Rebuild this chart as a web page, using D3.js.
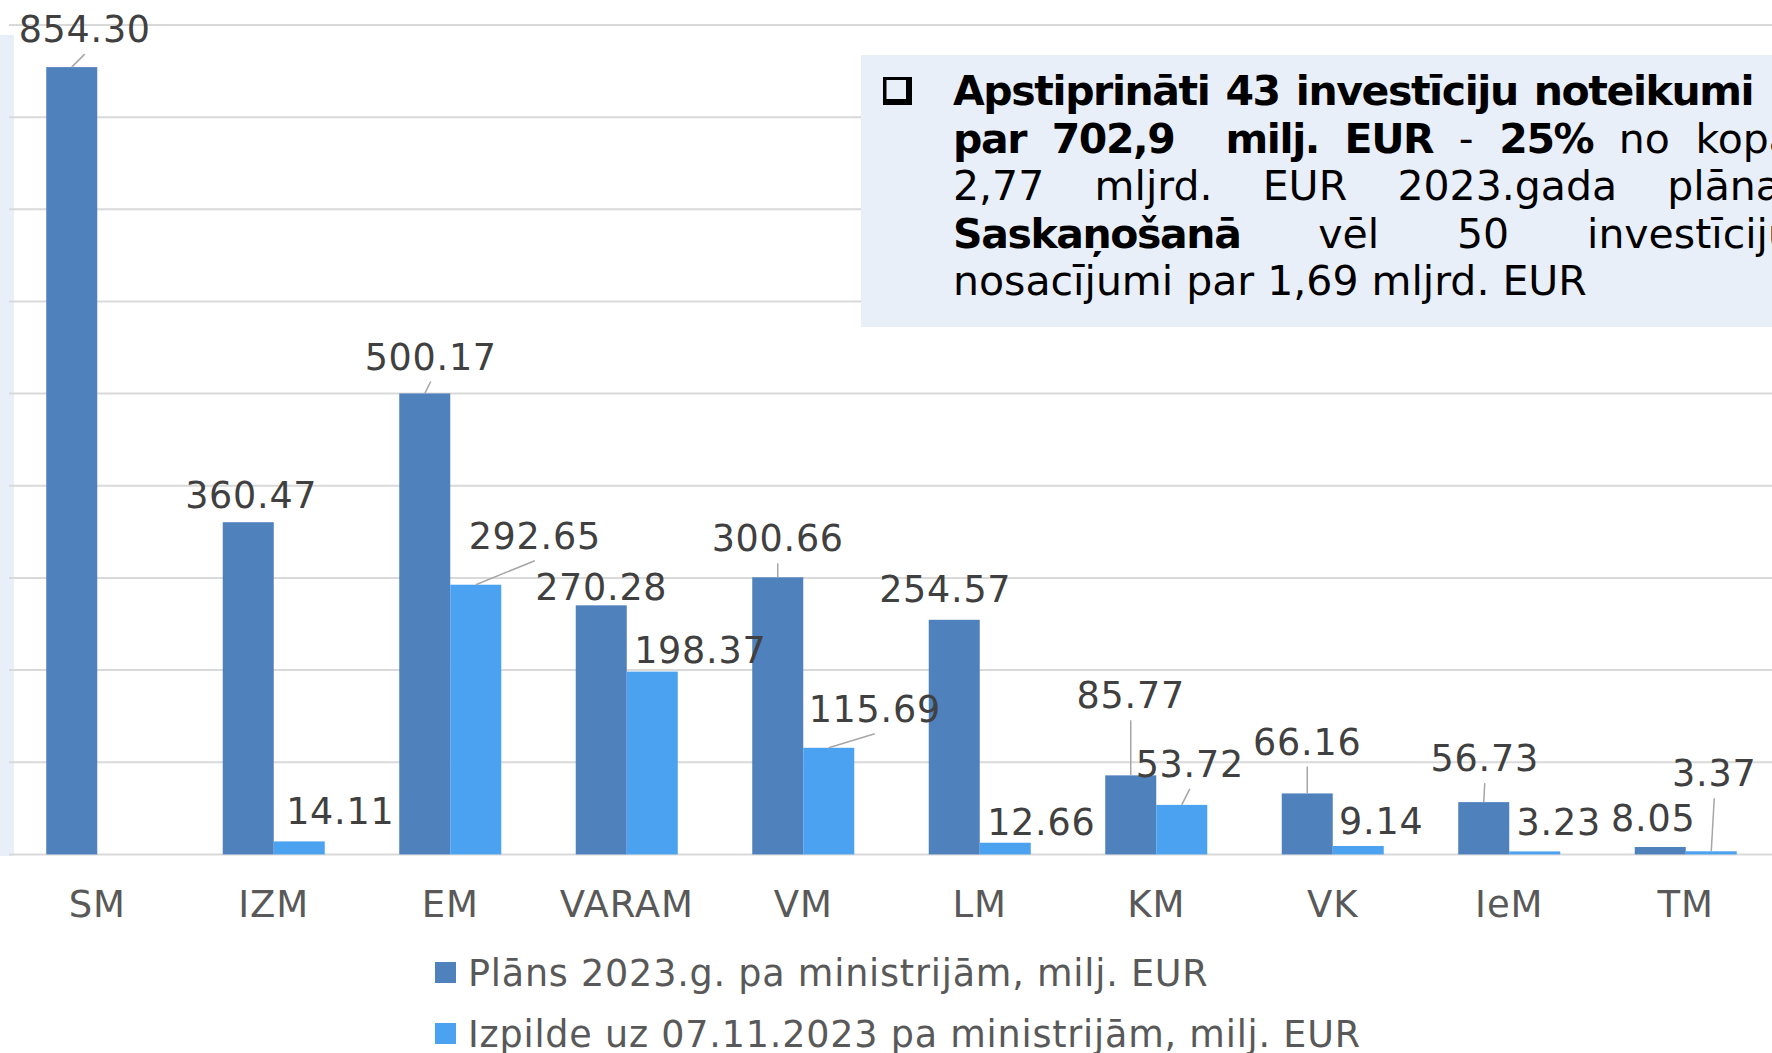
<!DOCTYPE html>
<html>
<head>
<meta charset="utf-8">
<script src="https://cdn.jsdelivr.net/npm/d3@7"></script>
<style>
  body { margin: 0; background: #fff; overflow: hidden; }
  text { font-family: "DejaVu Sans", Verdana, sans-serif; }
</style>
</head>
<body>
<script>
'use strict';

// ministries on the x axis
const categories = ["SM", "IZM", "EM", "VARAM", "VM", "LM", "KM", "VK", "IeM", "TM"];
// plan 2023, mln EUR
const planValues = [854.30, 360.47, 500.17, 270.28, 300.66, 254.57, 85.77, 66.16, 56.73, 8.05];
// execution up to 07.11.2023, mln EUR (SM has none)
const doneValues = [null, 14.11, 292.65, 198.37, 115.69, 12.66, 53.72, 9.14, 3.23, 3.37];
const seriesNames = [
    "Plāns 2023.g. pa ministrijām, milj. EUR",
    "Izpilde uz 07.11.2023 pa ministrijām, milj. EUR"
];
const yTicks = [0, 100, 200, 300, 400, 500, 600, 700, 800, 900];

// the text box on the top right, line by line ([text, bold])
const noteLines = [
    [["Apstiprināti 43 investīciju noteikumi", true]],
    [["par 702,9  milj. EUR", true], [" - ", false], ["25%", true], [" no kopā", false]],
    [["2,77 mljrd. EUR 2023.gada plāna.", false]],
    [["Saskaņošanā", true], [" vēl 50 investīciju", false]],
    [["nosacījumi par 1,69 mljrd. EUR", false]]
];
// fixed word gap per line, null = justified
const noteGaps = [16, null, null, null, 13];

// hand placed data labels: [dx, dy, leader line] from the bar top
const planLabelShift = [[13, -38, 1], [3, -27, 0], [6, -37, 1], [0, -18, 0], [0, -39, 1],
    [-9, -31, 0], [0, -80, 1], [0, -52, 1], [1, -44, 1], [-7, -29, 0]];
const doneLabelShift = [null, [41, -31, 0], [59, -49, 1], [48, -22, 0], [46, -39, 1],
    [36, -21, 0], [8, -41, 1], [23, -25, 0], [24, -30, 0], [3, -78, 1]];

const colors = ["#4F81BD", "#4BA2F0"];
const boxFill = "#E9EFF9";

const W = 1772, H = 1053;

const svg = d3.select("body").append("svg")
    .attr("width", W)
    .attr("height", H);

// light strip of the neighbouring box on the left
svg.append("rect")
    .attr("x", 0).attr("y", 35)
    .attr("width", 14).attr("height", 821)
    .attr("fill", boxFill);

const x = d3.scaleBand()
    .domain(categories)
    .range([9, 1774])
    .paddingInner(0.422)
    .paddingOuter(0.211);

const y = d3.scaleLinear()
    .domain([0, 900])
    .range([854.4, 25]);

// gridlines
svg.append("g")
    .selectAll("line")
    .data(yTicks)
    .enter()
    .append("line")
    .attr("x1", 9)
    .attr("x2", W)
    .attr("y1", d => y(d))
    .attr("y2", d => y(d))
    .attr("stroke", "#D9D9D9")
    .attr("stroke-width", 2);

const bw = x.bandwidth() / 2;

function drawSeries(values, shifts, offset, color) {
    const rows = categories.map((c, i) => ({ c: c, v: values[i], s: shifts[i] }))
        .filter(d => d.v != null);

    svg.append("g")
        .selectAll("rect")
        .data(rows)
        .enter()
        .append("rect")
        .attr("x", d => x(d.c) + offset)
        .attr("y", d => y(d.v))
        .attr("width", bw)
        .attr("height", d => y(0) - y(d.v))
        .attr("fill", color);

    const cx = d => x(d.c) + offset + bw / 2;

    svg.append("g")
        .selectAll("line")
        .data(rows.filter(d => d.s[2]))
        .enter()
        .append("line")
        .attr("x1", cx)
        .attr("y1", d => y(d.v))
        .attr("x2", d => cx(d) + d.s[0])
        .attr("y2", d => y(d.v) + d.s[1] + 25)
        .attr("stroke", "#A6A6A6")
        .attr("stroke-width", 1.5);

    svg.append("g")
        .selectAll("text")
        .data(rows)
        .enter()
        .append("text")
        .attr("x", d => cx(d) + d.s[0])
        .attr("y", d => y(d.v) + d.s[1])
        .attr("dy", "0.36em")
        .attr("text-anchor", "middle")
        .attr("font-size", "36.5px")
        .attr("letter-spacing", "0.75px")
        .attr("fill", "#404040")
        .text(d => d.v.toFixed(2));
}

drawSeries(planValues, planLabelShift, 0, colors[0]);
drawSeries(doneValues, doneLabelShift, bw, colors[1]);

// category axis labels
svg.append("g")
    .selectAll("text")
    .data(categories)
    .enter()
    .append("text")
    .attr("x", d => x(d) + x.bandwidth() / 2)
    .attr("y", 917)
    .attr("text-anchor", "middle")
    .attr("font-size", "37px")
    .attr("letter-spacing", "0.9px")
    .attr("fill", "#595959")
    .text(d => d);

// legend
const legend = svg.append("g")
    .selectAll("g")
    .data(seriesNames)
    .enter()
    .append("g")
    .attr("transform", (d, i) => "translate(435," + (962 + i * 61) + ")");

legend.append("rect")
    .attr("width", 21)
    .attr("height", 21)
    .attr("fill", (d, i) => colors[i]);

legend.append("text")
    .attr("x", 33)
    .attr("y", 24)
    .attr("font-size", "36.5px")
    .attr("letter-spacing", "0.8px")
    .attr("fill", "#595959")
    .text(d => d);

// note box
svg.append("rect")
    .attr("x", 861).attr("y", 55)
    .attr("width", 950).attr("height", 272)
    .attr("fill", boxFill);

// the bullet (shadowed square)
svg.append("rect")
    .attr("x", 883).attr("y", 77)
    .attr("width", 29).attr("height", 28)
    .attr("fill", "#000");
svg.append("rect")
    .attr("x", 886.5).attr("y", 80)
    .attr("width", 19.5).attr("height", 19)
    .attr("fill", boxFill);

const note = svg.append("g")
    .attr("font-size", "41px")
    .attr("fill", "#000");

const textLeft = 953, textRight = 1794;

noteLines.forEach(function(line, li) {
    // split into space separated tokens, keep the weight of each
    let tokens = [];
    line.forEach(function(seg) {
        const parts = seg[0].split(" ");
        parts.forEach(function(p, k) {
            if (k > 0) tokens.push(null); // a space
            if (p !== "") tokens.push({ t: p, bold: seg[1] });
        });
    });
    const baseline = 105 + li * 47.5;
    const nodes = tokens.filter(t => t).map(function(t) {
        const n = note.append("text")
            .attr("y", baseline)
            .attr("font-weight", t.bold ? "bold" : "normal")
            .attr("letter-spacing", t.bold ? "-1.4px" : null)
            .text(t.t);
        t.w = n.node().getComputedTextLength();
        t.node = n;
        return t;
    });
    const spaces = tokens.filter(t => t === null).length;
    const wordsW = d3.sum(nodes, t => t.w);
    const gap = noteGaps[li] != null ? noteGaps[li] : (textRight - textLeft - wordsW) / spaces;
    let cx = textLeft;
    tokens.forEach(function(t) {
        if (t === null) { cx += gap; return; }
        t.node.attr("x", cx);
        cx += t.w;
    });
});
</script>
</body>
</html>
